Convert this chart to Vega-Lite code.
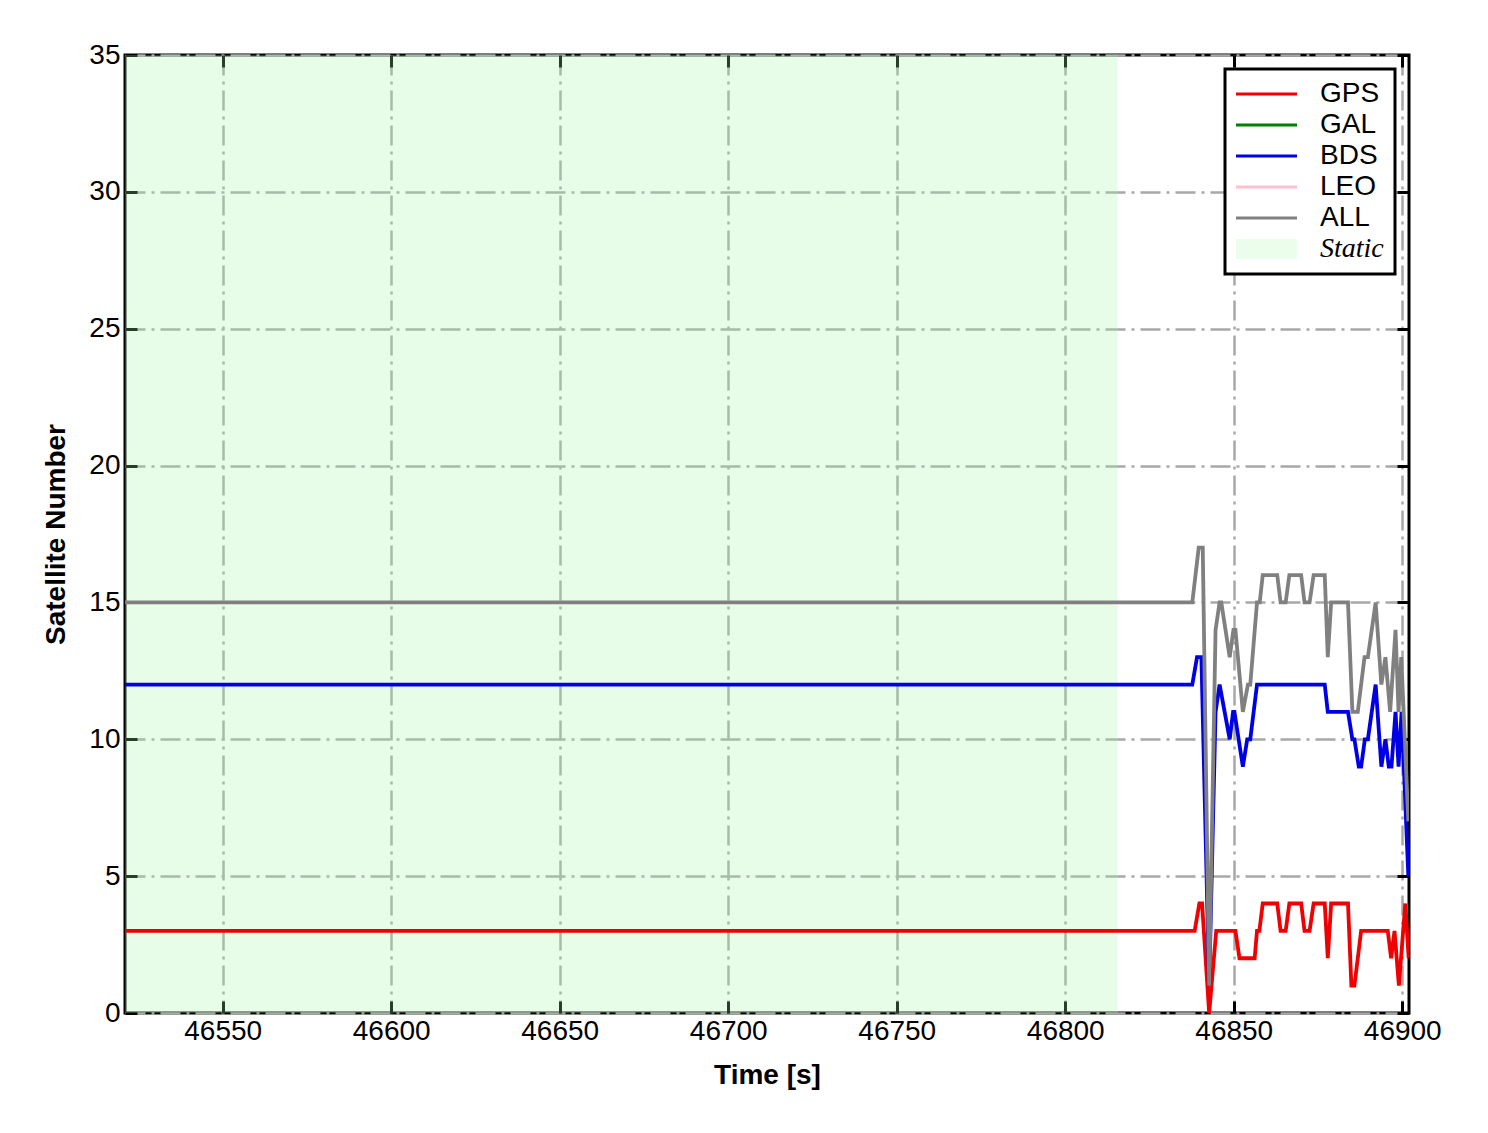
{
  "$schema": "https://vega.github.io/schema/vega-lite/v6.json",
  "width": 1284,
  "height": 958,
  "autosize": {"type": "none"},
  "padding": {"left": 125, "top": 55, "right": 79, "bottom": 120},
  "background": "white",
  "config": {
    "view": {"stroke": "black", "strokeWidth": 3},
    "font": "Liberation Sans",
    "axis": {
      "labelFont": "Liberation Sans",
      "labelFontSize": 28,
      "labelColor": "black",
      "titleFont": "Liberation Sans",
      "titleFontSize": 28,
      "titleFontWeight": "bold",
      "titleColor": "black",
      "domain": false,
      "tickColor": "black",
      "tickWidth": 3,
      "tickSize": -12,
      "labelBound": false,
      "labelFlush": false,
      "labelOverlap": false,
      "gridColor": "#a8a8a8",
      "gridWidth": 2.5,
      "gridDash": [20, 6, 3, 6],
      "gridOpacity": 1
    },
    "legend": {
      "title": null,
      "orient": "top-right",
      "offset": 14,
      "padding": 11,
      "fillColor": "white",
      "strokeColor": "black",
      "cornerRadius": 0,
      "labelFont": "Liberation Sans",
      "labelFontSize": 28,
      "labelColor": "black",
      "labelOffset": 56,
      "rowPadding": 3,
      "symbolSize": 400,
      "symbolStrokeWidth": 3
    }
  },
  "datasets": {
    "static": [{"start": 46521, "end": 46815.6, "label": "Static"}],
    "sats": [
      {"t": 46521, "n": 3, "sys": "GPS"},
      {"t": 46838.4, "n": 3, "sys": "GPS"},
      {"t": 46839.8, "n": 4, "sys": "GPS"},
      {"t": 46840.6, "n": 4, "sys": "GPS"},
      {"t": 46842.7, "n": 0, "sys": "GPS"},
      {"t": 46844.8, "n": 3, "sys": "GPS"},
      {"t": 46850.5, "n": 3, "sys": "GPS"},
      {"t": 46851.7, "n": 2, "sys": "GPS"},
      {"t": 46856.2, "n": 2, "sys": "GPS"},
      {"t": 46856.9, "n": 3, "sys": "GPS"},
      {"t": 46857.6, "n": 3, "sys": "GPS"},
      {"t": 46858.6, "n": 4, "sys": "GPS"},
      {"t": 46862.9, "n": 4, "sys": "GPS"},
      {"t": 46863.9, "n": 3, "sys": "GPS"},
      {"t": 46865.4, "n": 3, "sys": "GPS"},
      {"t": 46866.5, "n": 4, "sys": "GPS"},
      {"t": 46870.0, "n": 4, "sys": "GPS"},
      {"t": 46871.0, "n": 3, "sys": "GPS"},
      {"t": 46872.5, "n": 3, "sys": "GPS"},
      {"t": 46873.7, "n": 4, "sys": "GPS"},
      {"t": 46877.0, "n": 4, "sys": "GPS"},
      {"t": 46877.9, "n": 2, "sys": "GPS"},
      {"t": 46878.9, "n": 4, "sys": "GPS"},
      {"t": 46883.9, "n": 4, "sys": "GPS"},
      {"t": 46884.9, "n": 1, "sys": "GPS"},
      {"t": 46885.8, "n": 1, "sys": "GPS"},
      {"t": 46887.8, "n": 3, "sys": "GPS"},
      {"t": 46895.7, "n": 3, "sys": "GPS"},
      {"t": 46896.7, "n": 2, "sys": "GPS"},
      {"t": 46897.7, "n": 3, "sys": "GPS"},
      {"t": 46899.0, "n": 1, "sys": "GPS"},
      {"t": 46900.9, "n": 4, "sys": "GPS"},
      {"t": 46901.9, "n": 2, "sys": "GPS"},
      {"t": 46521, "n": 12, "sys": "BDS"},
      {"t": 46837.7, "n": 12, "sys": "BDS"},
      {"t": 46839.1, "n": 13, "sys": "BDS"},
      {"t": 46840.4, "n": 13, "sys": "BDS"},
      {"t": 46842.7, "n": 1, "sys": "BDS"},
      {"t": 46844.6, "n": 11, "sys": "BDS"},
      {"t": 46845.8, "n": 12, "sys": "BDS"},
      {"t": 46848.8, "n": 10, "sys": "BDS"},
      {"t": 46849.8, "n": 11, "sys": "BDS"},
      {"t": 46850.2, "n": 11, "sys": "BDS"},
      {"t": 46852.7, "n": 9, "sys": "BDS"},
      {"t": 46854.0, "n": 10, "sys": "BDS"},
      {"t": 46854.9, "n": 10, "sys": "BDS"},
      {"t": 46856.9, "n": 12, "sys": "BDS"},
      {"t": 46877.0, "n": 12, "sys": "BDS"},
      {"t": 46877.9, "n": 11, "sys": "BDS"},
      {"t": 46883.9, "n": 11, "sys": "BDS"},
      {"t": 46885.2, "n": 10, "sys": "BDS"},
      {"t": 46885.8, "n": 10, "sys": "BDS"},
      {"t": 46887.1, "n": 9, "sys": "BDS"},
      {"t": 46887.8, "n": 9, "sys": "BDS"},
      {"t": 46888.9, "n": 10, "sys": "BDS"},
      {"t": 46889.8, "n": 10, "sys": "BDS"},
      {"t": 46892.1, "n": 12, "sys": "BDS"},
      {"t": 46893.8, "n": 9, "sys": "BDS"},
      {"t": 46895.0, "n": 10, "sys": "BDS"},
      {"t": 46896.0, "n": 9, "sys": "BDS"},
      {"t": 46896.8, "n": 9, "sys": "BDS"},
      {"t": 46898.0, "n": 11, "sys": "BDS"},
      {"t": 46898.9, "n": 9, "sys": "BDS"},
      {"t": 46899.8, "n": 11, "sys": "BDS"},
      {"t": 46901.8, "n": 5, "sys": "BDS"},
      {"t": 46521, "n": 15, "sys": "ALL"},
      {"t": 46837.7, "n": 15, "sys": "ALL"},
      {"t": 46839.6, "n": 17, "sys": "ALL"},
      {"t": 46840.8, "n": 17, "sys": "ALL"},
      {"t": 46842.7, "n": 1, "sys": "ALL"},
      {"t": 46844.6, "n": 14, "sys": "ALL"},
      {"t": 46845.8, "n": 15, "sys": "ALL"},
      {"t": 46846.3, "n": 15, "sys": "ALL"},
      {"t": 46848.8, "n": 13, "sys": "ALL"},
      {"t": 46849.9, "n": 14, "sys": "ALL"},
      {"t": 46850.5, "n": 14, "sys": "ALL"},
      {"t": 46852.7, "n": 11, "sys": "ALL"},
      {"t": 46854.2, "n": 12, "sys": "ALL"},
      {"t": 46854.9, "n": 12, "sys": "ALL"},
      {"t": 46856.9, "n": 15, "sys": "ALL"},
      {"t": 46857.7, "n": 15, "sys": "ALL"},
      {"t": 46858.6, "n": 16, "sys": "ALL"},
      {"t": 46862.9, "n": 16, "sys": "ALL"},
      {"t": 46863.9, "n": 15, "sys": "ALL"},
      {"t": 46865.4, "n": 15, "sys": "ALL"},
      {"t": 46866.5, "n": 16, "sys": "ALL"},
      {"t": 46870.0, "n": 16, "sys": "ALL"},
      {"t": 46871.0, "n": 15, "sys": "ALL"},
      {"t": 46872.5, "n": 15, "sys": "ALL"},
      {"t": 46873.7, "n": 16, "sys": "ALL"},
      {"t": 46877.0, "n": 16, "sys": "ALL"},
      {"t": 46877.9, "n": 13, "sys": "ALL"},
      {"t": 46878.9, "n": 15, "sys": "ALL"},
      {"t": 46883.9, "n": 15, "sys": "ALL"},
      {"t": 46885.2, "n": 11, "sys": "ALL"},
      {"t": 46886.8, "n": 11, "sys": "ALL"},
      {"t": 46888.8, "n": 13, "sys": "ALL"},
      {"t": 46889.8, "n": 13, "sys": "ALL"},
      {"t": 46892.1, "n": 15, "sys": "ALL"},
      {"t": 46893.8, "n": 12, "sys": "ALL"},
      {"t": 46895.0, "n": 13, "sys": "ALL"},
      {"t": 46896.4, "n": 11, "sys": "ALL"},
      {"t": 46898.0, "n": 14, "sys": "ALL"},
      {"t": 46898.9, "n": 11, "sys": "ALL"},
      {"t": 46899.7, "n": 13, "sys": "ALL"},
      {"t": 46901.8, "n": 7, "sys": "ALL"}
    ]
  },
  "layer": [
    {
      "data": {"name": "static"},
      "mark": {"type": "rect", "opacity": 0.25},
      "encoding": {
        "x": {
          "field": "start",
          "type": "quantitative",
          "scale": {"domain": [46521, 46902], "nice": false, "zero": false},
          "axis": {"orient": "top", "labels": false, "grid": false, "title": null, "values": [46550, 46600, 46650, 46700, 46750, 46800, 46850, 46900]}
        },
        "x2": {"field": "end"},
        "y": {
          "datum": 0,
          "type": "quantitative",
          "scale": {"domain": [0, 35], "nice": false, "zero": false},
          "axis": {"orient": "right", "labels": false, "grid": false, "title": null, "values": [0, 5, 10, 15, 20, 25, 30, 35]}
        },
        "y2": {"datum": 35},
        "color": {
          "field": "label",
          "type": "nominal",
          "scale": {
            "domain": ["GPS", "GAL", "BDS", "LEO", "ALL", "Static"],
            "range": ["#f00000", "#008000", "#0000e6", "#ffc0cb", "#808080", "#a3f7a3"]
          },
          "legend": {
            "encode": {
              "legend": {"update": {"strokeWidth": {"value": 3}}},
              "symbols": {
                "update": {
                  "shape": {"signal": "datum.value === 'Static' ? 'M-1.4,-1H4.7V1H-1.4Z' : 'M-1.4,0H4.7'"},
                  "fill": {"signal": "datum.value === 'Static' ? '#e9fce9' : 'transparent'"},
                  "stroke": {"signal": "datum.value === 'Static' ? 'transparent' : scale('color', datum.value)"},
                  "strokeWidth": {"value": 3},
                  "opacity": {"value": 1},
                  "fillOpacity": {"signal": "datum.value === 'Static' ? 0.22 : 1"},
                  "strokeOpacity": {"signal": "datum.value === 'Static' ? 0 : 1"}
                }
              },
              "labels": {
                "update": {
                  "font": {"signal": "datum.value === 'Static' ? 'Liberation Serif' : 'Liberation Sans'"},
                  "fontStyle": {"signal": "datum.value === 'Static' ? 'italic' : 'normal'"}
                }
              }
            }
          }
        }
      }
    },
    {
      "data": {"name": "sats"},
      "mark": {"type": "line", "strokeWidth": 3.8, "clip": true},
      "encoding": {
        "x": {
          "field": "t",
          "type": "quantitative",
          "axis": {"orient": "bottom", "title": "Time [s]", "grid": true, "values": [46550, 46600, 46650, 46700, 46750, 46800, 46850, 46900], "format": "d", "labelPadding": 16, "titlePadding": 16}
        },
        "y": {
          "field": "n",
          "type": "quantitative",
          "axis": {"orient": "left", "title": "Satellite Number", "grid": true, "values": [0, 5, 10, 15, 20, 25, 30, 35], "labelPadding": 17, "titlePadding": 18}
        },
        "color": {
          "field": "sys",
          "type": "nominal",
          "legend": {
            "encode": {
              "legend": {"update": {"strokeWidth": {"value": 3}}},
              "symbols": {
                "update": {
                  "shape": {"signal": "datum.value === 'Static' ? 'M-1.4,-1H4.7V1H-1.4Z' : 'M-1.4,0H4.7'"},
                  "fill": {"signal": "datum.value === 'Static' ? '#e9fce9' : 'transparent'"},
                  "stroke": {"signal": "datum.value === 'Static' ? 'transparent' : scale('color', datum.value)"},
                  "strokeWidth": {"value": 3},
                  "opacity": {"value": 1},
                  "fillOpacity": {"signal": "datum.value === 'Static' ? 0.22 : 1"},
                  "strokeOpacity": {"signal": "datum.value === 'Static' ? 0 : 1"}
                }
              },
              "labels": {
                "update": {
                  "font": {"signal": "datum.value === 'Static' ? 'Liberation Serif' : 'Liberation Sans'"},
                  "fontStyle": {"signal": "datum.value === 'Static' ? 'italic' : 'normal'"}
                }
              }
            }
          }
        },
        "order": {"field": "t", "type": "quantitative"}
      }
    }
  ],
  "resolve": {"axis": {"x": "independent", "y": "independent"}}
}
